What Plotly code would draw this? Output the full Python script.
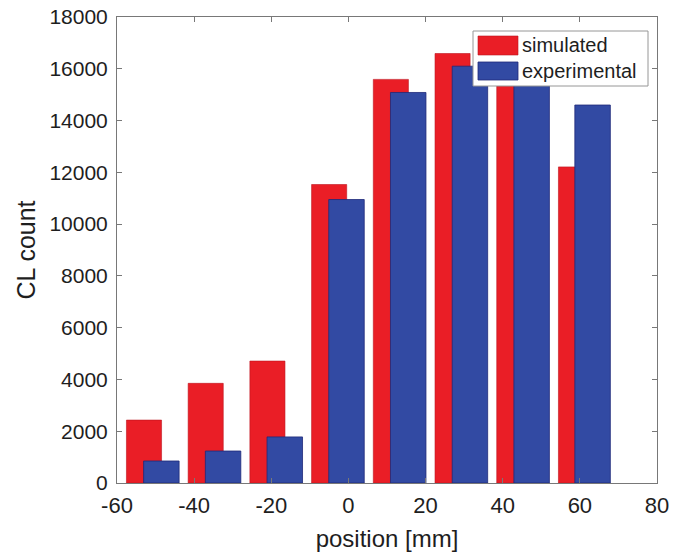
import plotly.graph_objects as go

positions_sim = [-53, -37, -21, -5, 11, 27, 43, 59]
positions_exp = [-48.5, -32.5, -16.5, -0.5, 15.5, 31.5, 47.5, 63.3]
simulated = [2430, 3850, 4710, 11530, 15590, 16590, 16000, 12210]
experimental = [850, 1235, 1780, 10950, 15085, 16100, 15600, 14600]

x_ticks = [-60, -40, -20, 0, 20, 40, 60, 80]
y_ticks = [0, 2000, 4000, 6000, 8000, 10000, 12000, 14000, 16000, 18000]

red = "rgb(234,30,38)"
blue = "rgb(50,74,163)"

fig = go.Figure()
fig.add_trace(go.Bar(x=positions_sim, y=simulated, width=9.1, name="simulated",
                     marker=dict(color=red, line=dict(color="rgb(190,20,30)", width=0.6)),
                     showlegend=False))
fig.add_trace(go.Bar(x=positions_exp, y=experimental, width=9.2, name="experimental",
                     marker=dict(color=blue, line=dict(color="rgb(30,40,120)", width=0.8)),
                     showlegend=False))

fam = "Liberation Sans, Arial, Helvetica, sans-serif"
txt = "#1e1e1e"
font = dict(family=fam, size=21, color=txt)

W, H = 675, 554
ml, mr, mt, mb = 117, 18, 17, 71
pw, ph = W - ml - mr, H - mt - mb

def px(xp):
    return (xp - ml) / pw

def py(yp):
    return 1 - (yp - mt) / ph

shapes = [
    dict(type="rect", xref="paper", yref="paper", x0=px(473), x1=px(648), y0=py(86), y1=py(31),
         fillcolor="white", line=dict(color="rgb(150,150,150)", width=1), layer="above"),
    dict(type="rect", xref="paper", yref="paper", x0=px(478), x1=px(518), y0=py(55), y1=py(36),
         fillcolor=red, line=dict(color="rgb(190,20,30)", width=0.6), layer="above"),
    dict(type="rect", xref="paper", yref="paper", x0=px(478), x1=px(518), y0=py(80), y1=py(62),
         fillcolor=blue, line=dict(color="rgb(30,40,120)", width=0.8), layer="above"),
]
annotations = [
    dict(text="simulated", xref="paper", yref="paper", x=px(520), y=py(45.5), xanchor="left",
         yanchor="middle", showarrow=False, font=dict(family=fam, size=20, color=txt)),
    dict(text="experimental", xref="paper", yref="paper", x=px(520), y=py(71), xanchor="left",
         yanchor="middle", showarrow=False, font=dict(family=fam, size=20, color=txt)),
]

fig.update_layout(
    width=W, height=H,
    margin=dict(l=ml, r=mr, t=mt, b=mb, autoexpand=False),
    paper_bgcolor="white", plot_bgcolor="white",
    barmode="overlay",
    font=font,
    shapes=shapes,
    annotations=annotations,
    xaxis=dict(range=[-60, 80], tickvals=x_ticks, ticktext=[str(v) for v in x_ticks],
               showgrid=False, zeroline=False, showline=True, linecolor="rgb(120,120,120)",
               linewidth=1, mirror="ticks", ticks="inside", ticklen=5, tickcolor="rgb(120,120,120)",
               title=dict(text="position [mm]", standoff=12, font=dict(size=24)),
               tickfont=dict(size=22), ticklabelstandoff=3, automargin=False),
    yaxis=dict(range=[0, 18000], tickvals=y_ticks, ticktext=[str(v) for v in y_ticks],
               showgrid=False, zeroline=False, showline=True, linecolor="rgb(120,120,120)",
               linewidth=1, mirror="ticks", ticks="inside", ticklen=5, tickcolor="rgb(120,120,120)",
               title=dict(text="CL count", standoff=6, font=dict(size=25)),
               tickfont=dict(size=21), ticklabelstandoff=4, automargin=False),
)

fig.write_html("out.html", config={"displayModeBar": False},
               post_script="document.body.style.margin='0';document.body.style.overflow='hidden';")
